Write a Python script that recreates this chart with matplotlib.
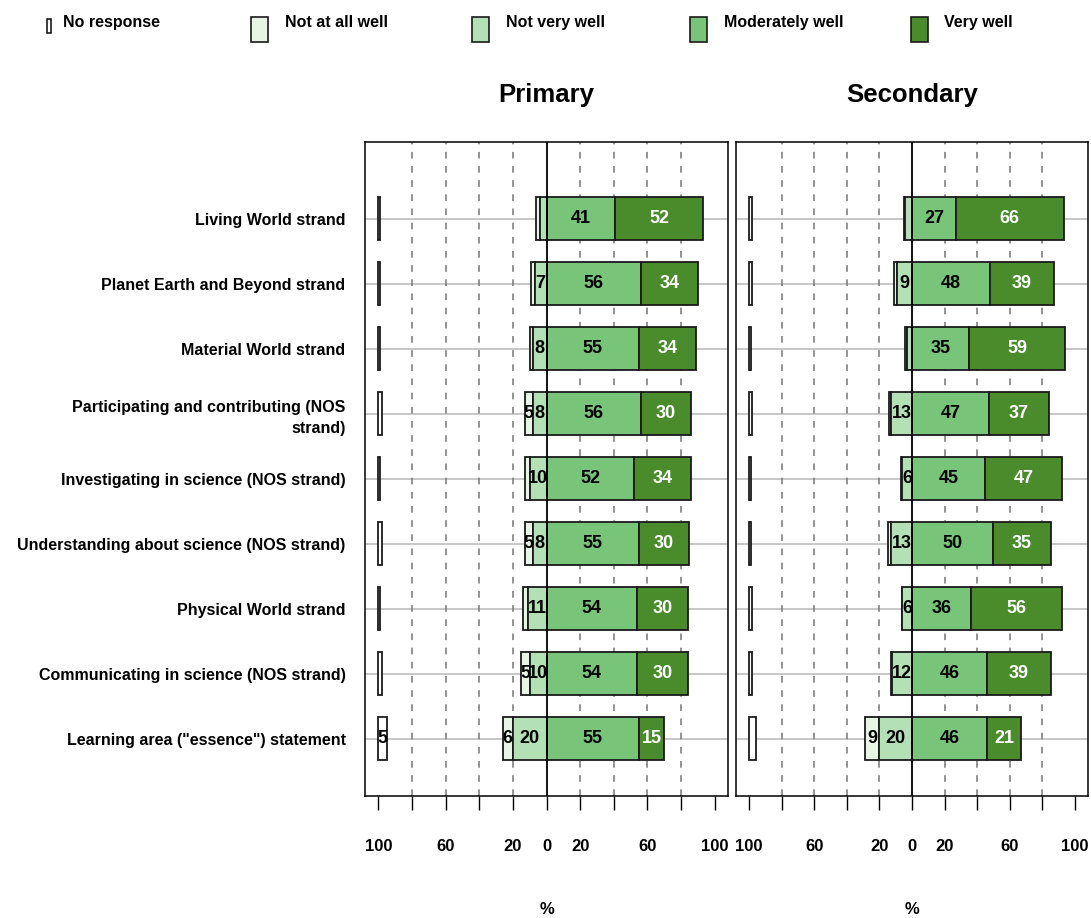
"""Diverging stacked bars: how well teachers understand each science strand."""
import numpy as np
import matplotlib
matplotlib.use("Agg")
import matplotlib.pyplot as plt
from matplotlib.patches import Rectangle

plt.rcParams["font.family"] = ["Liberation Sans", "DejaVu Sans"]
plt.rcParams["font.weight"] = "bold"

categories = [
    "Living World strand",
    "Planet Earth and Beyond strand",
    "Material World strand",
    "Participating and contributing (NOS\nstrand)",
    "Investigating in science (NOS strand)",
    "Understanding about science (NOS strand)",
    "Physical World strand",
    "Communicating in science (NOS strand)",
    "Learning area (\"essence\") statement",
]

levels = ["No response", "Not at all well", "Not very well", "Moderately well", "Very well"]
colors = ["#ffffff", "#e6f5e4", "#b3e0b5", "#78c479", "#4a8b2c"]
text_colors = ["black", "black", "black", "black", "white"]

primary_no_response = [1, 1, 1, 2, 1, 2, 1, 2, 5]
primary_not_at_all = [2, 2, 2, 5, 3, 5, 3, 5, 6]
primary_not_very = [4, 7, 8, 8, 10, 8, 11, 10, 20]
primary_moderately = [41, 56, 55, 56, 52, 55, 54, 54, 55]
primary_very = [52, 34, 34, 30, 34, 30, 30, 30, 15]

secondary_no_response = [2, 2, 1, 2, 1, 1, 2, 2, 4]
secondary_not_at_all = [1, 2, 1, 1, 1, 2, 0, 1, 9]
secondary_not_very = [4, 9, 3, 13, 6, 13, 6, 12, 20]
secondary_moderately = [27, 48, 35, 47, 45, 50, 36, 46, 46]
secondary_very = [66, 39, 59, 37, 47, 35, 56, 39, 21]

major_ticks = [-100, -60, -20, 0, 20, 60, 100]
minor_ticks = [-80, -40, 40, 80]
grid_ticks = [-80, -60, -40, -20, 20, 40, 60, 80]

W, H = 1091, 918
fig = plt.figure(figsize=(W / 100, H / 100), dpi=100)


def draw_panel(rect, title, nr, naw, nvw, mw, vw, show_labels):
    ax = fig.add_axes(rect)
    nr, naw, nvw, mw, vw = (np.array(a, dtype=float) for a in (nr, naw, nvw, mw, vw))
    y = np.arange(len(categories))[::-1]
    h = 0.66

    for yy in y:
        ax.axhline(yy, color="#bdbdbd", lw=1.2, zorder=0)
    for gx in grid_ticks:
        ax.axvline(gx, color="#808080", lw=1.2, ls=(0, (4, 4.5)), zorder=0.5)

    segments = [
        (np.full_like(nr, -100), nr),
        (-nvw - naw, naw),
        (-nvw, nvw),
        (np.zeros_like(mw), mw),
        (mw, vw),
    ]
    for (left, width), col, tcol in zip(segments, colors, text_colors):
        ax.barh(y, width, left=left, height=h, color=col,
                edgecolor="#1a1a1a", linewidth=1.3, zorder=2)
        for yy, l, w in zip(y, left, width):
            if w >= 5:
                ax.text(l + w / 2, yy, f"{w:.0f}", ha="center", va="center",
                        fontsize=13, fontweight="bold", color=tcol, zorder=4)

    ax.axvline(0, color="black", lw=1.3, zorder=3)

    ax.set_xlim(-108, 108)
    ax.set_ylim(-0.88, 9.18)
    ax.set_xticks(major_ticks)
    ax.set_xticklabels([str(abs(t)) for t in major_ticks])
    ax.set_xticks(minor_ticks, minor=True)
    ax.tick_params(axis="x", which="both", direction="out", length=10, width=1,
                   pad=21, labelsize=12)
    if show_labels:
        ax.set_yticks(y)
        ax.set_yticklabels(categories, fontsize=11.5, fontweight="bold",
                           linespacing=1.45)
        ax.tick_params(axis="y", length=0, pad=14)
    else:
        ax.set_yticks([])
    for s in ax.spines.values():
        s.set_linewidth(1.1)

    cx = rect[0] + rect[2] / 2
    fig.text(cx, 1 - 95 / H, title, ha="center", va="center",
             fontsize=18.5, fontweight="bold")
    fig.text(cx, 1 - 909 / H, "%", ha="center", va="center",
             fontsize=12, fontweight="bold")
    return ax


draw_panel([365 / W, 1 - 796 / H, 363 / W, 654 / H], "Primary",
           primary_no_response, primary_not_at_all, primary_not_very,
           primary_moderately, primary_very, True)
draw_panel([736 / W, 1 - 796 / H, 352 / W, 654 / H], "Secondary",
           secondary_no_response, secondary_not_at_all, secondary_not_very,
           secondary_moderately, secondary_very, False)

# legend across the top
patch_x = [47, 251, 472, 690, 911]
text_x = [63, 285, 506, 724, 944]
for i, (lab, col) in enumerate(zip(levels, colors)):
    if i == 0:
        px, py, pw, ph = patch_x[i], 19, 4, 14
    else:
        px, py, pw, ph = patch_x[i], 17, 17, 25
    fig.patches.append(Rectangle((px / W, 1 - (py + ph) / H), pw / W, ph / H,
                                 transform=fig.transFigure, facecolor=col,
                                 edgecolor="#1a1a1a", linewidth=1.2))
    fig.text(text_x[i] / W, 1 - 15 / H, lab, ha="left", va="top",
             fontsize=11.5, fontweight="bold")

fig.savefig("out.png", dpi=100)
